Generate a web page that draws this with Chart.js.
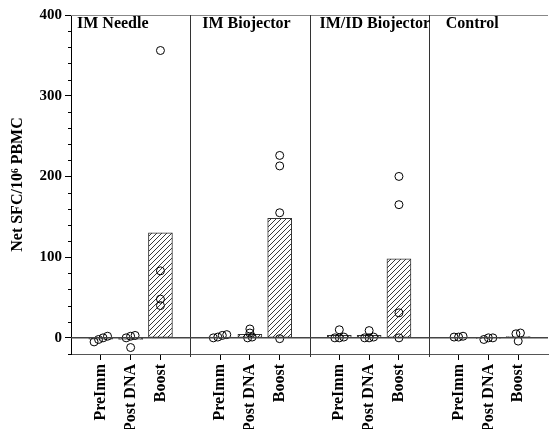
<!DOCTYPE html>
<html>
<head>
<meta charset="utf-8">
<script src="https://cdn.jsdelivr.net/npm/chart.js@4"></script>
<style>
html,body{margin:0;padding:0;background:#fff;}
#wrap{width:553px;height:429px;position:relative;}
</style>
</head>
<body>
<div id="wrap"><canvas id="c"></canvas></div>
<script>
// ---- data ----
const groups = ['IM Needle', 'IM Biojector', 'IM/ID Biojector', 'Control'];
const categories = ['PreImm', 'Post DNA', 'Boost'];
const yTickLabels = [0, 100, 200, 300, 400];

// bar heights (group means) per time point
const needleMeans    = [-1.5, -2, 130];
const biojectorMeans = [1, 4.5, 148];
const imidMeans      = [3, 3, 98];
const controlMeans   = [0.5, -0.5, 1.5];

// individual subjects per time point
const needlePoints    = [[2, 0, -2, -5], [3, 2, 0, -12], [356, 83, 48, 40]];
const biojectorPoints = [[4, 3, 1, 0], [11, 6, 1, 0], [226, 213, 155, -1]];
const imidPoints      = [[10, 1, 0, 0], [9, 1, 0, 0], [200, 165, 31, 0]];
const controlPoints   = [[1, 2, 1], [0, -2, 0], [6, 5, -4]];

// ---- build ----
const meanSets = [needleMeans, biojectorMeans, imidMeans, controlMeans];
const pointSets = [needlePoints, biojectorPoints, imidPoints, controlPoints];
const slot = (g, t) => g * 4 + t + 1;

const barData = [];
meanSets.forEach((m, g) => m.forEach((v, t) => barData.push({x: slot(g, t), y: v})));

const pointData = [];
pointSets.forEach((ps, g) => ps.forEach((vals, t) => {
  const sorted = vals.slice().sort((a, b) => a - b);
  const clusters = [];
  sorted.forEach((v, i) => {
    if (i === 0 || v - sorted[i - 1] > 4.5) clusters.push([v]);
    else clusters[clusters.length - 1].push(v);
  });
  clusters.forEach(cl => cl.forEach((v, j) => {
    pointData.push({x: slot(g, t) + (j - (cl.length - 1) / 2) * 0.15, y: v});
  }));
}));

const tickPositions = [];
groups.forEach((_, g) => categories.forEach((_, t) => tickPositions.push(slot(g, t))));

// hatch pattern
const pc = document.createElement('canvas');
pc.width = 5; pc.height = 5;
const pctx = pc.getContext('2d');
pctx.fillStyle = '#fff'; pctx.fillRect(0, 0, 5, 5);
pctx.strokeStyle = '#222'; pctx.lineWidth = 0.9;
pctx.beginPath();
pctx.moveTo(0, 5); pctx.lineTo(5, 0);
pctx.moveTo(-1, 1); pctx.lineTo(1, -1);
pctx.moveTo(4, 6); pctx.lineTo(6, 4);
pctx.stroke();
const hatch = document.getElementById('c').getContext('2d').createPattern(pc, 'repeat');

const serif = 'Liberation Serif, Times New Roman, serif';

const decor = {
  id: 'decor',
  beforeDatasetsDraw(chart) {
    const {ctx, chartArea: a, scales: {x, y}} = chart;
    ctx.save();
    // top border
    ctx.strokeStyle = '#888'; ctx.lineWidth = 1;
    ctx.beginPath(); ctx.moveTo(a.left, a.top + 0.5); ctx.lineTo(a.right, a.top + 0.5); ctx.stroke();
    // panel dividers
    ctx.strokeStyle = '#333'; ctx.lineWidth = 1;
    [4, 8, 12].forEach(v => {
      const px = Math.round(x.getPixelForValue(v)) + 0.5;
      ctx.beginPath(); ctx.moveTo(px, a.top); ctx.lineTo(px, a.bottom + 3); ctx.stroke();
    });
    // minor y ticks
    ctx.strokeStyle = '#000';
    for (let v = -20; v <= 400; v += 20) {
      if (v % 100 === 0) continue;
      const py = Math.round(y.getPixelForValue(v)) + 0.5;
      ctx.beginPath(); ctx.moveTo(a.left - 3, py); ctx.lineTo(a.left, py); ctx.stroke();
    }
    ctx.restore();
  },
  afterDatasetsDraw(chart) {
    const {ctx, chartArea: a, scales: {x, y}} = chart;
    ctx.save();
    // zero line
    const py0 = y.getPixelForValue(0);
    ctx.strokeStyle = '#444'; ctx.lineWidth = 1.5;
    ctx.beginPath(); ctx.moveTo(a.left, py0); ctx.lineTo(a.right, py0); ctx.stroke();
    // panel titles
    const offs = [6, 12, 10, 17];
    ctx.fillStyle = '#000';
    ctx.font = 'bold 16px ' + serif;
    ctx.textBaseline = 'alphabetic';
    groups.forEach((g, i) => {
      ctx.fillText(g, x.getPixelForValue(i * 4) + offs[i], a.top + 13);
    });
    ctx.restore();
  }
};

new Chart(document.getElementById('c'), {
  type: 'bar',
  data: {
    datasets: [
      {
        type: 'scatter',
        data: pointData,
        pointStyle: 'circle',
        pointRadius: 4,
        pointBorderWidth: 1,
        borderColor: '#000',
        backgroundColor: 'rgba(0,0,0,0)',
        order: 0
      },
      {
        type: 'bar',
        data: barData,
        backgroundColor: hatch,
        borderColor: '#333',
        borderWidth: 1,
        borderSkipped: false,
        barThickness: 24,
        order: 1
      }
    ]
  },
  options: {
    responsive: true,
    maintainAspectRatio: false,
    animation: false,
    layout: {padding: {top: 15, right: -2, left: 0, bottom: 0}},
    plugins: {legend: {display: false}, tooltip: {enabled: false}},
    scales: {
      x: {
        type: 'linear',
        min: 0, max: 16,
        offset: false,
        afterBuildTicks: s => { s.ticks = tickPositions.map(v => ({value: v})); },
        afterFit: s => { s.height = 75; s.paddingLeft = 0; s.paddingRight = 0; },
        border: {display: true, color: '#555', width: 1},
        grid: {offset: false, drawOnChartArea: false, drawTicks: true, tickLength: 6, color: '#000'},
        ticks: {
          autoSkip: false,
          minRotation: 90, maxRotation: 90,
          padding: 4,
          color: '#000',
          font: {family: serif, size: 16, weight: 'bold'},
          callback: v => {
            const i = tickPositions.indexOf(v);
            return i >= 0 ? categories[i % 3] : '';
          }
        }
      },
      y: {
        type: 'linear',
        min: -20, max: 400,
        afterFit: s => { s.width = 71; },
        border: {display: true, color: '#000', width: 1},
        grid: {
          drawOnChartArea: false,
          tickLength: 6,
          tickColor: c => (c.tick && yTickLabels.includes(c.tick.value)) ? '#000' : 'rgba(0,0,0,0)'
        },
        ticks: {
          stepSize: 20,
          autoSkip: false,
          padding: 3,
          color: '#000',
          font: {family: serif, size: 15, weight: 'bold'},
          callback: v => yTickLabels.includes(v) ? String(v) : ''
        },
        title: {
          display: true,
          text: 'Net SFC/10\u2076 PBMC',
          color: '#000',
          font: {family: serif, size: 16, weight: 'bold'},
          padding: {top: 8, bottom: 0}
        }
      }
    }
  },
  plugins: [decor]
});
</script>
</body>
</html>
